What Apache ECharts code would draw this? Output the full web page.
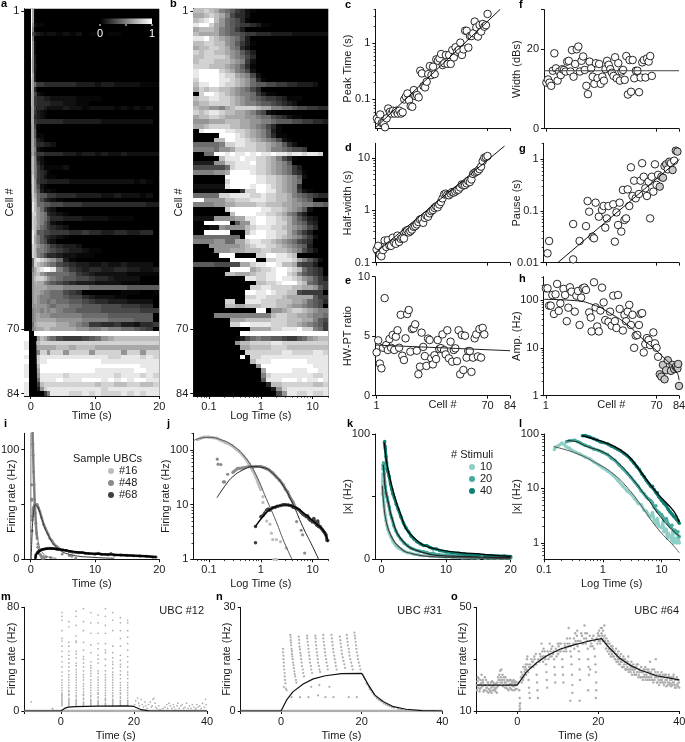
<!DOCTYPE html>
<html><head><meta charset="utf-8">
<script src="https://cdn.jsdelivr.net/npm/echarts@6/dist/echarts.min.js"></script>
<style>html,body{margin:0;padding:0;background:#fff}#c{width:685px;height:742px}</style>
</head><body><div id="c"></div>
<script>
// ---------- heat maps: one string per cell, one hex digit (0-f) per time bin; missing digits = 0
const heatAEdges=[-1,-.25,0,.25,.5,.75,1,1.5,2,2.5,3,4,5,6,7,8,9,10,11,12,13,14,15,16,17,18,19,20];
const heatBEdges=[.05,.063,.079,.1,.126,.158,.2,.251,.316,.398,.501,.631,.794,1,1.26,1.58,2,2.51,3.16,3.98,5.01,6.31,7.94,10,12.6,15.8,20];
const heatA=["00fb1","00fb1","00fb1","00fa2211","00f91","00f7433212212120110110","00f91","00fa2","00fa2","00fa2","00fa31","00ea3","00ea32","00ea3","00eb3","00db31",
"00db865544444433323322221111","00db42","00cb6521","00cb55443322221111","00cb554444332211","00bb6344322232212222121212","00bb54321","00bb44321","00bb5544444433333322222222","00ab621","00ab73","00ab7311","00ab8432","00ab8544332","00ab9521",
"009b86554444332332322322222","00ac9632","00ac97421","00ac985311112","009c985431","009d9854211","009da754433332222222222121","008da8621","008da973121","007dba87755444333322322212","006dca864321","005ecb8877665554444444444333","005ecba8532","004ddba984321","004dcba9864433322221111","004dcca97521","004dcba875432",
"005eca77665554454433443344","005eba9754321","005eba97632","004dcba98754332","004dca998765433211","003dcb98644322111","0018deedcba831","0018ddcba98654332232232222","0029bcdeffe9754344334433223","001abcca9888875432222211111","001acdddca98776654432222","001abcbb9876543332222111","001abbbbbaaa9999888888777777","001abbba9988654000000111001","001abba999887664322211","000abba9989887765443332222","000aabaaa98998877766655544","0009aaa9a9a9887777666666555","0009abbaaa9999988887777777","0009abbbbbbaaaa99998888777","0008bbcccccbba9855445332445","0009abbbccbbbbaa99a9988765",
"f000fffffffffffffffffffffff","f00003acb986555678abccccccc","e0000acdddddddddddddddddddd","e00007bbbbbccbcccbbbbbbbbbb","f000069ddaddadddaddddaddadd","e00006deeeeeeeeeeeeddeeeded","f00005deefffffffffeeeeeeeee","e00003cfffffffffffffffffeee","e00002bffffffffffeeeeeeffee","e00001aeeeeedeeeeeeedeeeded","f000008eeeefeeefffefefeffee","e000005cdddddddddcddccddccd","e000003adeeeeeeeeedeeeeeeee","e000000059eeeddededddededee"];
const heatB=["ccdcb9875421","bbcdcb96442","cdefca87641","effdba876554311","bcccb98753","cbbbb987765544433332222222","eefdcba9863","ccddcca97531","bccddcb9842","dcddccba9753","ccddddca9864","cdddcccba952","dddcccba9741","effffdcb9862","effffeddba962","dffffeedcba841",
"ceeffeddcba8776655443332","bdcddccba9864","0dffedcba9985311","cddeeddcba98765543111","bccddddcba9987765432","cbbaa9bcddddcbb99887665544","dcdeedccbba97621","bccddcbbbbaa988654211","aaabbbcccbbaa9987776655443","bbcddddccbba98641","0effffeeddcba9731","00000fffedcba97411","0000ccffeedcba98621","888889ddeeddccba9742","99998aabddddccb9987665",
"0088ffefeefefeefeedeedeed","00000ceeefeeddcb9641","3333aaddeeefddcba97","6666668deeeeddcba9853","9999aabffffeddcba98541","000000ffffffeeddcba972","000000dfffffeeddcba98","222222effffeffedcba94","1111110005ddffeecba9521","88888ddeeeeddeddccb9876544","ffaaaaccdddeeeddccba987","9999aabbccccddcccbbaa99887","000000dffffffeeddcba972","0000000cffffeeddcb9853","2222aaaabbeeffeedcb97532",
"00fffff07aaeffeeddb98743","00022a9aaacdeeeddcba9864","00fffff000ceffeeddb9753","8888888880ffffeedcba9752","9999aa88bbdeeddcba98654","000aaaaaabcdeeddcba9873","0000aaabbbcccddcccba9642","00000fff0000ddffeedc0000","0000000fffff00ddeeedb9752","777766666bbdeeffeccb6553","0000000ffffbcddeffedc8654","000000ccbbbcddeeffdc97654","0000000000eeddeefeedca9753","000000000000ccddefffdc8755","00000000000ddeeddddccbba75",
"0000000000ffeefeddcc65555","0000000000ddeedddcbbbbb755","000000dd00eeedddcccbba8764","000000ccbbcccdddccbaa9876","000000000000ff0aabcddcba99","000099999999999cddccbba998","0000000bbbcccccdddcccbb976","0000000ddffeeeedddccba9875","00000000000bbbbddeeefdd985",
"000000000ffffffffffffffffff","0000000013689887765578abcc","00000000accddddeeddddddddd","000000000bbccccdddcccccccc","0000000000dddddddeeddddeed","000000000f0ddeeeeeeeeeeeee","00000000000ceeefffffffeeee","000000000000affffffffffeee","0000000000000bfffffeeeffee","00000000000009deeeeeeeedde","00000000000007eeefffefeefe","000000000000004ccddddddccd","0000000000000003adeeeeeeee","00000000000000006aeeddedde"];

// ---------- cell-indexed measurements
const peakTime=[.046,.042,.054,.038,.038,.032,.046,.069,.06,.056,.063,.056,.063,.056,.063,.056,.059,.10,.112,.128,.097,.076,.074,.147,.115,.12,.109,.325,.291,.173,.164,.207,.283,.394,.272,.383,.283,.518,.49,.54,.645,.41,.44,.62,.43,.62,.43,.76,.56,.85,.71,.76,1.03,.62,.78,1.68,1.67,.84,1.35,1.35,1.51,2.44,1.93,1.32,2.12,1.62,2.21,1.98,2.1,3.34];
const halfWidth=[.179,.21,.143,.133,.174,.266,.2,.27,.213,.21,.30,.24,.23,.33,.25,.286,.30,.29,.40,.42,.38,.40,.43,.486,.50,.54,.60,.67,.69,.58,.72,.80,.76,.88,.97,1.02,1.12,1.2,1.15,1.3,1.45,1.7,2.03,2.1,2.0,1.95,2.1,2.25,2.2,2.3,2.45,2.5,2.75,3.15,3.0,3.06,3.3,3.65,3.5,3.92,5.0,5.3,5.5,5.7,6.2,6.9,8.8,10.2,10.5,11];
const hwPtRatio=[3.64,4.65,2.7,2.3,4.03,8.2,4.26,3.84,4.76,4.03,5.1,3.84,4.96,5.5,4.03,6.8,3.36,3.0,4.82,6.86,7.2,3.7,5.6,5.66,6.0,3.78,1.8,2.44,5.3,4.1,3.33,2.5,4.8,4.68,3.14,2.63,3.4,3.08,4.68,3.92,4.0,5.15,3.84,3.47,5.5,3.14,4.54,2.86,3.84,3.98,2.9,5.5,1.8,5.1,2.16,5.04,3.2,3.75,3.75,2.0,3.2,4.82,5.15,3.3,5.6,3.2,5.7,5.15];
const widthDbs=[11.6,12.4,11.6,10.8,14.6,19,15.2,12.1,14.4,13.5,15,14.8,14.4,16.9,17.1,14.4,19.8,13.1,16.3,20,20.7,14.4,17.1,18.2,14.8,10.8,8.7,16.9,15.2,13.1,11.3,16.5,12.7,16.3,11.3,13.1,12.1,15,17.1,16.1,15,14.1,13.3,18,12.7,16.5,12.1,14.4,14.8,12.3,18.3,8.6,17.3,9.3,17.3,12.7,14.6,14.6,9.2,12.9,16.7,17.3,12.9,17.7,16.9,18.3,13.3];
const pausePts=[[2,.0152],[3,.0263],[18,.0116],[18,.056],[22,.0263],[26,.051],[27,.156],[28,.097],[30,.032],[31,.0296],[32,.145],[34,.0776],[36,.105],[37,.125],[38,.0476],[39,.072],[40,.125],[43,.135],[44,.0255],[45,.094],[46,.0536],[47,.145],[48,.04],[49,.255],[50,.067],[51,.072],[52,.262],[53,.125],[54,.70],[55,.195],[56,.386],[57,.176],[59,.213],[60,.386],[61,.84],[62,.46],[63,.275],[64,.195],[65,.37],[66,.072],[67,.46],[68,.237],[69,.80],[70,.32],[71,.50],[72,.296],[73,.46],[74,.44],[75,.74],[76,.80],[77,.64],[78,.90],[79,.84],[80,.62],[81,.94],[82,1.47],[83,1.41]];
const pauseGrayCells=[72,74,76,78,80,82,83];
const ampPts=[[1,175],[2,175],[3,76],[4,76],[5,127],[6,51],[7,131],[8,216],[9,59],[10,85],[12,170],[13,127],[14,36],[15,69],[16,184],[17,149],[19,57],[20,123],[21,154],[22,30],[23,112],[24,175],[25,181],[26,162],[28,55],[29,43],[29.5,22],[31,234],[32,70],[33,28],[34,22],[35,60],[36,181],[37,89],[38,38],[40,35],[41,57],[42,29],[43,123],[44,36],[45,26],[46,127],[47,65],[49,23],[50,49],[51,36],[52,57],[53,79],[54,30],[55,49],[56,10],[57,18],[58,18.6],[59,30],[60,51],[61,53],[62,8],[63,12],[64,16],[65,14.6],[66,11.4],[68,21],[69,12.4],[70,10],[71,6.5],[72,2.8],[73,2.5],[75,2.2],[74,4.4],[77,5.5],[76,3.4],[79,3.3],[80,4.4],[81,3.6],[82,4],[83,3.7],[83.5,4.6],[84,1.6]];
const fitPeak=[[.17,.0316],[77.9,4.04]];
const fitHalf=[[-.25,.15],[80.6,17.1]];
const fitRatio=[[0,4.26],[84,3.78]];
const fitWidth=[[-.5,14.6],[84,14.6]];
const fitPause=[[8.4,.01],[84.3,1.0]];
const fitAmp=[[0,103],[19,97],[32,76],[41,53],[52,30],[62,14.6],[73,7],[83,2.9],[84,2.1]];

// ---------- sample UBCs (time s, rate Hz)
const dots16=[[.06,155],[.07,165],[.08,172],[.1,172],[.12,168],[.14,165],[.17,150],[.2,140],[.24,130],[.28,120],[.33,105],[.38,95],[.45,80],[.52,68],[.6,55],[.7,42],[.8,33],[.9,24],[1,19],[1.1,14],[1.1,11],[1.27,7.4],[1.3,5],[1.5,4.4],[1.6,3],[1.7,2.3],[2,2.3],[2.4,2.1],[3.1,1.6],[1.8,1],[2,1]];
const dots48=[[.145,68],[.15,55],[.17,54],[.19,26],[.2,26],[.23,36],[.29,39],[.36,46],[.45,47],[.5,48],[.6,50],[.7,49],[.8,50],[1,50],[1.1,48],[1.2,47],[1.4,44],[1.7,38],[2,32],[2.3,28],[2.7,23],[3,19],[3.3,17],[3.6,14],[4.2,11],[4.6,9],[4.9,4.9],[6,3.4],[6.4,2.8],[7,1.3]];
const dots68=[[.79,4],[.79,2],[1,6],[1.1,6.3],[1.2,7],[1.3,8],[1.4,8.3],[1.5,8],[1.7,8.8],[1.9,9],[2.1,9.3],[2.4,9.6],[2.7,10],[3,10],[3.4,9.8],[3.8,9.6],[4.2,9],[4.6,8.8],[5,8.5],[5.5,8],[6,7.2],[6.5,6.7],[7,6.4],[7.5,6],[8,6.2],[8.5,5.5],[9,5.2],[10,4.8],[10.5,5.6],[11,4.7],[12,4.2],[12.5,5],[13,4],[14,4],[15,3.6],[16,3.3],[17,3.1],[18,2.8],[19,2.2],[19.5,2.2]];
const curve16=[[.05,148],[.066,163],[.1,170],[.16,157],[.29,120],[.52,70],[.81,35],[1.27,13],[1.98,4.9],[2.8,2.1],[4,1]];
const curve48=[[.143,13.4],[.215,23.6],[.289,32.5],[.45,43],[.7,49.6],[1.09,48],[1.7,37.4],[2.65,22.9],[4.1,10.6],[6.4,4],[10,1.7],[13,1]];
const curve68=[[.79,4],[1.09,6],[1.46,8],[1.98,9.3],[3.1,9.9],[4.8,8.8],[7.4,6.5],[11.6,4.5],[16.7,3.2],[19.5,2.1]];

// ---------- stimulus number (time s, |x| Hz)
const dots10=[[.15,52],[.16,58],[.18,62],[.2,68],[.22,64],[.24,58],[.27,55],[.3,50],[.35,46],[.4,43],[.5,38],[.6,35],[.7,31],[.85,27],[1,24],[1.2,21],[1.5,17.5],[1.8,14],[2.2,11],[2.6,9],[3,8],[3.5,6.5],[4,5.3],[4.5,5],[5,4],[5.5,3.8],[6,3.2],[6.5,3],[7,3.6],[7.5,2.6],[8,2.2],[8.5,2.8],[9,2],[10,1.9],[10.5,2.4],[11,1.6],[12,1.8],[12.5,1.2],[13,1.5],[14,1.3],[15,1.1],[15.5,1.7],[16,1],[17,1.2],[18,1],[19,1.3],[20,1]];
const dots20=[[.24,72],[.27,75],[.3,76],[.33,77],[.38,72],[.42,68],[.5,62],[.6,58],[.7,53],[.85,50],[1,46],[1.2,42],[1.4,36],[1.6,33],[1.9,27],[2.2,23],[2.6,19],[3,16],[3.5,13],[4,11],[4.5,9],[5,8],[5.5,7],[6,6.4],[6.5,6],[7,5.4],[7.5,4.5],[8,4.8],[8.5,3.8],[9,3.6],[10,3.3],[10.5,3],[11,2.6],[12,2.8],[13,2.2],[14,2],[15,2.1],[16,1.7],[17,1.7],[18,1.5],[19,1.6],[20,1.3]];
const dots40=[[.45,93],[.5,94],[.55,90],[.6,88],[.7,82],[.8,77],[.9,72],[1,70],[1.2,66],[1.4,60],[1.6,56],[1.8,52],[2,49],[2.3,44],[2.6,40],[3,34],[3.4,29],[3.8,25],[4.2,22],[4.6,18.5],[5,16.5],[5.5,14],[6,12.5],[6.5,11],[7,11],[7.5,9.5],[8,8.4],[8.5,8.3],[9,7],[10,6],[11,5.3],[12,4.8],[13,4.1],[14,3.7],[15,3.4],[16,3.1],[17,3.1],[18,2.7],[19,2.6],[20,2.3]];
const curve10=[[.144,58.7],[.318,46],[.7,31],[1.53,18.3],[2.97,8.8],[4.4,5],[8.4,1.88],[16.2,.87],[20,.66]];
const curve20=[[.244,75.5],[.318,74],[.54,58.7],[1.03,46],[1.74,31],[2.97,16.6],[5.65,6.7],[11,2.5],[20,1.32]];
const curve40=[[.45,93],[.7,81],[1.18,67.5],[2,51],[2.97,36],[4.4,20.5],[8.4,8.2],[16.2,3.8],[20,2.4]];

// ---------- example cells: [time, rates...] columns and (time, rate) pairs
const mColumns=[[.3,76,73,70,62,56,54,50,46,42,38,34,30,27,24,22,20,18,16,14,13,12,11,10,9,8,7,6,5,4],[2.2,69,65,53,50,46,43,40,37,34,31,28,26,24,22,20,18,16,15,13,12,10,9,8,7,6,5,4],[4.2,77,73,66,58,54,53,46,44,41,37,35,32,30,28,26,24,22,20,18,16,14,12,11,9,8,7,6,5,4],[6.2,79,69,62,53,47,42,40,37,34,31,28,26,24,21,19,17,15,13,12,10,9,7,6,5,4],[8.2,76,68,60,51,45,38,35,33,31,29,27,24,22,20,18,16,14,12,11,9,8,7,6,5,4],[10.2,74,68,60,52,48,43,40,37,31,29,26,24,22,20,18,16,14,13,11,10,8,7,6,5,4],[12.2,79,73,66,60,52,47,45,40,35,31,28,26,24,22,20,18,16,14,12,10,9,8,6,5,4],[14.2,76,70,62,50,45,41,38,36,33,30,28,26,24,22,20,18,16,14,12,11,9,8,7,6,5,4],[16.3,72,68,62,56,50,43,39,36,34,31,28,25,22,20,18,16,14,13,11,10,8,7,6,5,4],[18.3,70,68,62,57,52,47,42,38,34,30,28,25,22,20,18,16,14,12,10,8,7,6,5,4]];
const mOther=[[-8.1,7],[-2.3,2],[-2.2,1],[-1,.5],[20.2,5],[20.5,8],[21,10],[21.3,6],[21.5,4],[22,9],[22.3,5],[22.6,3],[23,7],[23.2,4],[23.6,2],[24,5],[24.5,7],[24.8,3],[25.2,9],[25.5,10],[25.8,6],[26,3],[26.3,2],[26.8,4],[27,1],[28,2],[28.5,3],[29,5],[29.2,2],[29.6,6],[30,4],[30.4,2],[30.8,5],[31,3],[31.4,1],[31.8,4],[32,6],[32.4,2],[32.8,4],[33.2,5],[33.6,2],[34,3],[34.4,6],[34.8,2],[35.2,4],[35.6,2],[36,5],[36.4,3],[36.8,1],[37.2,5],[37.6,3],[38,4],[38.4,2],[38.8,6],[39.2,3],[39.6,9],[39.8,5],[37,2],[25,4],[27.4,1]];
const mCurve=[[-10,0],[0,0],[1,2],[2,3],[4,3.3],[10,3.7],[18,4],[20,3.5],[22,1],[24,.1],[30,0],[40,0]];
const nDots=[[.5,18],[.5,17],[.6,16],[.6,15],[.7,14],[.7,13],[.8,12],[.9,11],[.9,10],[1,9],[1.1,8],[.7,7],[1.2,6.5],[1.4,6],[2.3,22],[2.4,21.3],[2.4,20.5],[2.5,19.8],[2.5,19],[2.6,18],[2.7,17.3],[2.7,16.5],[2.8,15.8],[2.9,15],[3,14],[3.1,13.2],[3.2,12.4],[3.3,11.5],[3.4,10.7],[3.5,10],[3.7,9],[3.8,8.2],[2.6,4],[4.4,21.5],[4.5,20.6],[4.5,19.6],[4.6,18.6],[4.7,17.8],[4.8,16.8],[4.9,16],[5,15],[5.1,14],[5.2,13],[5.4,12],[5.5,11],[5.7,10],[4.7,4],[6.5,21.8],[6.5,21],[6.6,20],[6.7,19],[6.8,18],[6.9,17],[7,16],[7.1,15],[7.2,14],[7.4,13],[7.5,12],[7.7,11],[6.8,4],[7.5,7],[8.5,21.8],[8.6,21],[8.6,20],[8.7,19],[8.8,18],[8.9,17],[9,16],[9.1,15],[9.2,14],[9.4,13],[9.5,12],[9.7,11.3],[9.2,4.5],[9.5,7.5],[10.5,22],[10.5,21],[10.6,20],[10.7,19],[10.8,18],[10.9,17],[11,16],[11.2,15],[11.3,14],[11.5,13],[11.6,12],[11,4],[12,7],[12.5,22],[12.6,21],[12.7,20],[12.8,19],[12.9,18],[13,17],[13.2,16],[13.3,15],[13.5,14],[13.6,13],[13.8,12],[13,4],[14.6,21.5],[14.7,20.5],[14.8,19.5],[14.9,18.5],[15,17.5],[15.1,16.5],[15.3,15.5],[15.5,14.5],[15.7,13.5],[15.9,12.5],[16.3,22],[16.4,21],[16.5,20],[16.6,19],[16.8,18],[16.9,17],[17,16],[17.2,15],[17.4,14],[17.6,13],[17.8,12],[16.8,4],[18.2,22.7],[18.3,21.8],[18.4,21],[18.5,20],[18.6,19],[18.7,18],[18.8,17],[19,16],[19.1,15],[19.3,14],[19.5,13],[19.7,12],[18.8,4],[20.3,10.5],[20.6,9.8],[20.9,9.2],[21.2,8],[21.5,7.6],[21.8,7],[22,6.4],[22.3,6],[22.6,5.4],[23,4.8],[23.4,4.2],[23.8,3.7],[24.2,3.3],[24.6,3],[25,2.7],[25.5,2.2],[26,1.9],[26.5,1.6],[27,1.4],[27.5,1.1],[28,1],[29,.7],[30,.5],[29.5,.3],[31,.3]];
const nCurve=[[-10,0],[0,0],[1.4,3.2],[3,5.6],[5.5,7.8],[8,9.3],[11,10.2],[15,10.8],[20,10.9],[21.7,7.5],[23.3,4.6],[25.4,2.7],[27.9,1.25],[31,.5],[35,.1],[40,0]];
const oDots=[[-10,20],[-9.8,21.5],[-9.6,19],[-9.5,22.5],[-9.2,18.5],[-9,20.5],[-8.8,24],[-8.6,19.5],[-8.4,21],[-8.2,18],[-8,23],[-7.8,20],[-7.6,19],[-7.4,17.5],[-7.2,21],[-7,18.5],[-6.8,20],[-6.6,17.5],[-6.4,19],[-6.2,21.5],[-6,18],[-5.8,20],[-5.6,19],[-5.4,18.5],[-5.2,20.5],[-5,17],[-4.8,19.5],[-4.6,22],[-4.4,24],[-4.2,25.5],[-4,23],[-3.8,21],[-3.6,24],[-3.4,20],[-3.2,22],[-3,19],[-2.8,21],[-2.6,20],[-2.4,18.5],[-2.2,21.5],[-2,20],[-1.8,19],[-1.6,22],[-1.4,20.5],[-1.2,18],[-1,21],[-.8,19.5],[-.6,20.5],[-.4,18.5],[-.2,21],
[.3,21],[.5,18],[.6,15],[.6,12],[.7,11],[.9,23],[1,25],[1.3,24],[1.5,27],[1.8,25],[2,27],[2.2,24],[2.4,30],[2.5,31],[2.6,28],[2.7,25],[2.8,22],[2.9,19],[3,17],[3.1,15],[3.4,27],[3.7,29],[4,27],[4.3,30],[4.6,32],[4.7,28],[4.8,24],[4.9,21],[5,18],[5.1,15],[5.5,29],[5.8,31],[6,36],[6.2,33],[6.4,29],[6.6,31],[6.8,33],[7,31],[7.1,28],[7.2,25],[7.3,22],[7.4,19],[7.8,32],[8,36],[8.2,33],[8.5,31],[8.7,35],[9,33],[9.1,30],[9.2,27],[9.3,24],[9.4,21],[9.8,33],[10,36],[10.2,35],[10.5,33],[10.8,36],[11,34],[11.1,30],[11.2,27],[11.3,24],[11.4,21],[11.8,35],[12,34],[12.4,36],[12.7,42],[13,38],[13.2,35],[13.3,31],[13.4,28],[13.5,24],[13.6,20],[13.6,17],[14,38],[14.3,40],[14.5,36],[14.8,41],[15,37],[15.2,33],[15.3,30],[15.4,26],[15.5,22],[16,39],[16.3,36],[16.6,43],[17,38],[17.2,40],[17.4,34],[17.5,30],[17.6,27],[17.7,24],[18,37],[18.3,36],[18.6,35],[19,34],[19.2,31],[19.3,28],[19.4,25],[19.5,21],[19.5,18],[19.8,36],[20,39],[20.2,41],[20.4,37],[20.6,42],[20.8,40],[21,39],[21.2,41],[21.4,37],[21.6,39],
[21.8,36],[22,38],[22.2,35],[22.4,37],[22.6,34],[22.8,36],[23,33],[23.2,35],[23.4,32],[23.6,34],[23.8,31],[24,33],[24.2,30],[24.4,34],[24.6,31],[24.8,29],[25,33],[25.2,30],[25.4,28],[25.6,32],[25.8,29],[26,27],[26.2,31],[26.4,28],[26.6,30],[26.8,26],[27,29],[27.2,27],[27.4,31],[27.6,26],[27.8,28],[28,25],[28.2,29],[28.4,26],[28.6,28],[28.8,25],[29,27],[29.2,24],[29.4,27],[29.6,25],[29.8,28],[30,24],[30.2,26],[30.4,23],[30.6,27],[30.8,25],[31,22],[31.2,26],[31.4,24],[31.6,27],[31.8,23],[32,25],[32.2,22],[32.4,26],[32.6,23],[32.8,29],[33,25],[33.2,22],[33.4,24],[33.6,21],[33.8,26],[34,23],[34.2,30],[34.4,24],[34.6,21],[34.8,23],[35,20],[35.2,24],[35.4,22],[35.6,25],[35.8,21],[36,23],[36.2,20],[36.4,24],[36.6,22],[36.8,19.5],[37,23],[37.2,21],[37.4,24],[37.6,20],[37.8,22],[38,19.5],[38.2,23],[38.4,21],[38.6,24],[38.8,20],[39,22],[39.2,19],[39.4,23],[39.6,20.5],[39.8,22],[40,19]];
const oDotsMore=[[-9.9,18],[-9.7,23],[-9.4,20],[-9.3,17.5],[-9.1,22],[-8.9,19],[-8.7,21],[-8.5,22],[-8.3,17.5],[-8.1,20],[-7.9,18],[-7.7,22],[-7.5,19],[-7.3,21],[-7.1,17],[-6.9,20],[-6.7,18],[-6.5,21],[-6.3,17],[-6.1,19.5],[-5.9,21],[-5.7,18],[-5.5,20.5],[-5.3,17.5],[-5.1,19],[-4.9,21],[-4.7,23],[-4.5,20],[-4.3,22],[-4.1,21],[-3.9,26],[-3.7,22],[-3.5,19.5],[-3.3,23],[-3.1,21],[-2.9,23],[-2.7,19],[-2.5,22],[-2.3,20],[-2.1,18],[-1.9,22],[-1.7,20.5],[-1.5,18.5],[-1.3,21.5],[-1.1,19.5],[-.9,22],[-.7,18],[-.5,21.5],[-.3,20],[-.1,18.5],
[.6,10.5],[.7,13],[1.1,21],[1.4,22],[1.6,23],[1.9,26],[2.1,28],[2.3,26],[2.9,27],[3.2,28],[3.5,30],[3.9,29],[4.2,31],[4.5,28],[5.2,30],[5.6,32],[5.9,30],[6.3,31],[6.5,34],[6.9,30],[7.5,33],[7.7,30],[8.1,31],[8.4,34],[8.8,32],[9.5,34],[9.7,31],[10.1,32],[10.4,36],[10.7,33],[11.5,33],[11.7,36],[12.1,33],[12.3,38],[12.6,35],[12.9,36],[13.1,33],[13.1,14],[13.9,36],[14.1,34],[14.4,37],[14.7,39],[14.9,35],[15.4,14],[15.6,37],[15.8,40],[16.1,36],[16.5,38],[16.8,40],[16.9,36],[17.3,37],[17.5,18],[17.9,39],[18,26],[18.1,35],[18.5,38],[18.8,39],[19.1,37],[19.4,15],[19.6,38],[19.9,40],[20.1,37],[20.3,39],[20.5,36],[20.7,38],[20.9,42],[21.1,37],[21.3,38],[21.5,43],[21.7,37],
[21.9,34],[22.1,36],[22.3,33],[22.5,36],[22.7,32],[22.9,34],[23.1,31],[23.3,33],[23.5,35],[23.7,31],[23.9,33],[24.1,30],[24.3,32],[24.5,29],[24.7,32],[24.9,30],[25.1,28],[25.3,31],[25.5,29],[25.7,30],[25.9,27],[26.1,30],[26.3,27],[26.5,29],[26.7,26],[26.9,28],[27.1,26],[27.3,29],[27.5,25],[27.7,28],[27.9,26],[28.1,27],[28.3,24],[28.5,27],[28.7,26],[28.9,24],[29.1,26],[29.3,24],[29.5,28],[29.7,25],[29.9,23],[30.1,26],[30.3,25],[30.5,23],[30.7,25],[30.9,23],[31.1,25],[31.3,23],[31.5,26],[31.7,22],[31.9,24],[32.1,26],[32.3,23],[32.5,25],[32.7,22],[32.9,24],[33.1,23],[33.3,26],[33.5,22],[33.7,24],[33.9,22],[34.1,25],[34.3,23],[34.5,21],[34.7,25],[34.9,22],[35.1,24],[35.3,21],[35.5,23],[35.7,22],[35.9,24],[36.1,21],[36.3,23],[36.5,21],[36.7,24],[36.9,22],[37.1,20],[37.3,23],[37.5,21],[37.7,23],[37.9,20.5],[38.1,22],[38.3,20],[38.5,23],[38.7,21],[38.9,19],[39.1,22],[39.3,20],[39.5,22],[39.7,19.5],[39.9,21]];
const oCurve=[[-10,20],[0,20],[2.3,25.1],[4.8,28.6],[7.2,31.2],[10.5,33.8],[13.8,35.4],[18,37.1],[20.8,37.9],[22.9,34.1],[25.3,30.3],[27.8,27.7],[30.3,25.8],[34.4,23.6],[40,22]];
// tick values
const logMinorShort=[.06,.07,.08,.09,.2,.3,.4,.5,.6,.7,.8,.9,2,3,4,5,6,7,8,9,20];
const cellTicks=[1,70,84];

// ---------- builders
const FONT='"Liberation Sans", Arial, sans-serif', INK='#1a1a1a';
const chart=echarts.init(document.getElementById('c'),null,{renderer:'canvas'});
const grid=[],xAxis=[],yAxis=[],series=[];
const fmt=v=>String(+(+v).toFixed(3));
function axis(kind,gi,o){
  const a={gridIndex:gi,type:o.log?'log':'value',min:o.min,max:o.max,inverse:!!o.inverse,
    splitLine:{show:false},minorTick:{show:false},
    axisLine:{show:true,onZero:false,lineStyle:{color:'#111',width:1}},
    axisTick:{show:true,customValues:o.ticks,length:3,lineStyle:{color:'#111',width:1}},
    axisLabel:{show:!!o.labels,customValues:o.labels||[],formatter:fmt,margin:o.margin||5,fontFamily:FONT,fontSize:11,color:INK,hideOverlap:false,showMinLabel:true,showMaxLabel:true},
    name:o.name||'',nameLocation:'middle',nameGap:o.gap||0,nameMoveOverlap:false,nameTextStyle:{fontFamily:FONT,fontSize:11,color:INK}};
  if(o.log)a.logBase=10;
  const arr=kind==='x'?xAxis:yAxis;arr.push(a);const idx=arr.length-1;
  if(o.minor){arr.push({gridIndex:gi,type:o.log?'log':'value',logBase:10,min:o.min,max:o.max,position:kind==='x'?'bottom':'left',
    splitLine:{show:false},axisLine:{show:false,onZero:false},axisLabel:{show:false},
    axisTick:{show:true,customValues:o.minor,length:1.8,lineStyle:{color:'#111',width:.8}}});}
  return idx;
}
function panel(box,xo,yo){
  grid.push({left:box[0],top:box[1],width:box[2]-box[0],height:box[3]-box[1],show:!!box[4],backgroundColor:box[4]||'transparent',borderWidth:0,outerBoundsMode:'none',containLabel:false});
  const gi=grid.length-1;return {x:axis('x',gi,xo),y:axis('y',gi,yo)};
}
function heat(ax,rows,edges){
  const data=[];rows.forEach((s,r)=>{for(let i=0;i<edges.length-1;i++){const c=i<s.length?parseInt(s[i],16):0;if(c>0)data.push([edges[i],edges[i+1],r+1,c/15]);}});
  series.push({type:'custom',xAxisIndex:ax.x,yAxisIndex:ax.y,data,encode:{x:[0,1],y:2},clip:true,silent:true,
    renderItem:(p,api)=>{const a=api.coord([api.value(0),api.value(2)-.5]),b=api.coord([api.value(1),api.value(2)+.5]);const g=Math.round(Math.pow(api.value(3),1.35)*255);
      const x0=Math.round(a[0]),x1=Math.round(b[0]),y0=Math.round(a[1]),y1=Math.round(b[1]);
      return {type:'rect',shape:{x:x0,y:y0,width:Math.max(1,x1-x0),height:y1-y0},style:{fill:`rgb(${g},${g},${g})`}};}});
}
function circles(ax,pts,isGray){series.push({type:'scatter',xAxisIndex:ax.x,yAxisIndex:ax.y,data:pts,symbolSize:7.5,z:3,
  itemStyle:{color:p=>(isGray&&isGray(p.value[0]))?'#c8c8c8':'#fff',borderColor:'#111',borderWidth:.9,opacity:1}});}
function fit(ax,pts,opt){opt=opt||{};series.push({type:'line',name:opt.name,xAxisIndex:ax.x,yAxisIndex:ax.y,data:pts,showSymbol:false,symbol:'none',smooth:!!opt.smooth,z:opt.z||4,lineStyle:{color:opt.color||'#111',width:opt.width||1}});}
function dots(ax,pts,color,size,name,z){series.push({type:'scatter',name,xAxisIndex:ax.x,yAxisIndex:ax.y,data:pts,symbolSize:size,z:z||2,itemStyle:{color,opacity:1}});}
const seq=arr=>arr.map((v,i)=>[i+1,v]);
const band=(ax,pts,color,w)=>fit(ax,pts,{color,width:w,z:2});

// a, b
const pa=panel([24.3,8.7,159.3,396,'#000'],{min:-1,max:20,ticks:[0,10,20],labels:[0,10,20],name:'Time (s)',gap:14.5},{min:.5,max:84.5,inverse:true,ticks:cellTicks,labels:cellTicks,name:'Cell #',gap:9});
heat(pa,heatA,heatAEdges);
const pb=panel([193.3,8.7,328.3,396,'#000'],{log:true,min:.05,max:20,ticks:[.1,1,10],labels:[.1,1,10],minor:logMinorShort,name:'Log Time (s)',gap:14.5},{min:.5,max:84.5,inverse:true,ticks:cellTicks,labels:cellTicks,name:'Cell #',gap:9});
heat(pb,heatB,heatBEdges);
// c f d g e h
const cx=(labels,name,gap)=>({min:0,max:84,ticks:cellTicks,labels,name,gap});
const dec=(a,b)=>{const out=[];for(let e=-3;e<3;e++)for(let k=2;k<10;k++){const v=+(k*Math.pow(10,e)).toFixed(4);if(v>a&&v<b)out.push(v);}return out;};
const pc=panel([375.4,9.3,510,128],cx(null),{log:true,min:.031,max:4.04,ticks:[.1,1],labels:[.1,1],minor:dec(.031,4.04),name:'Peak Time (s)',gap:22});
circles(pc,seq(peakTime));fit(pc,fitPeak);
const pf=panel([544,9.6,679,128.7],{min:-.5,max:84,ticks:cellTicks},{min:0,max:30,ticks:[0,20,30],labels:[0,20],name:'Width (dBs)',gap:21.5});
circles(pf,seq(widthDbs));fit(pf,fitWidth,{color:'#444'});
const pd=panel([375,143.3,510,262.7],cx(null),{log:true,min:.1,max:19.3,ticks:[.1,1,10],labels:[.1,1,10],minor:dec(.1,19.3),name:'Half-width (s)',gap:22});
circles(pd,seq(halfWidth));fit(pd,fitHalf);
const pg=panel([543.5,143.3,679,262.7],{min:-.5,max:84,ticks:cellTicks},{log:true,min:.01,max:2.04,ticks:[.01,.1,1],labels:[.01,.1,1],minor:dec(.01,2.04),name:'Pause (s)',gap:21.5});
circles(pg,pausePts,x=>pauseGrayCells.includes(x));fit(pg,fitPause);
const pe=panel([375,276.7,510,395.7],{min:0,max:84,ticks:cellTicks,labels:cellTicks,name:'Cell #',gap:4},{min:0,max:10,ticks:[0,5,10],labels:[0,5,10],name:'HW-PT ratio',gap:22});
circles(pe,seq(hwPtRatio));fit(pe,fitRatio,{color:'#222'});
const ph=panel([543.5,276.7,679,395.7],{min:-.5,max:84,ticks:cellTicks,labels:cellTicks,name:'Cell #',gap:4},{log:true,min:1,max:306,ticks:[1,10,100],labels:[1,10,100],minor:dec(1,306),name:'Amp. (Hz)',gap:21.5});
circles(ph,ampPts,x=>x>=72);fit(ph,fitAmp,{smooth:true});
// i j
const C16='#bdbdbd',C48='#8a8a8a',C68='#3f3f3f';
const pi=panel([24.3,433.3,159.3,559.3],{min:-1,max:20,ticks:[0,10,20],labels:[0,10,20],name:'Time (s)',gap:19},{min:0,max:115,ticks:[0,50,100],labels:[0,100],name:'Firing rate (Hz)',gap:7});
dots(pi,dots16,C48,3,'#16');dots(pi,dots48,C48,3,'#48');dots(pi,dots68,C68,3,'#68');
band(pi,dots16.slice(0,19),C48,2.5);band(pi,dots48.slice(6,26),C48,2.5);band(pi,dots68.slice(2),C68,2.5);
fit(pi,[[0,0]].concat(curve16),{color:'#777',smooth:true});fit(pi,[[.05,0]].concat(curve48),{color:'#333',smooth:true});fit(pi,[[.7,0]].concat(curve68),{color:'#000',width:2,smooth:true});
const pj=panel([193.3,433.3,328.3,559.3],{log:true,min:.05,max:20,ticks:[.1,1,10],labels:[.1,1,10],minor:logMinorShort,name:'Log Time (s)',gap:19},{log:true,min:1,max:202,ticks:[1,10,100],labels:[1,10,100],minor:dec(1,202),name:'Firing rate (Hz)',gap:22});
dots(pj,dots16,C16,3.2);dots(pj,dots48,C48,3.2);dots(pj,dots68,C68,3.5);
band(pj,dots16.slice(0,19),C16,3);band(pj,dots48.slice(6,26),C48,3);band(pj,dots68.slice(2),C68,3);
fit(pj,curve16,{color:'#555',smooth:true});fit(pj,curve48,{color:'#222',smooth:true});fit(pj,curve68,{color:'#000',width:1.4,smooth:true});
// k l
const T10='#8ed0c6',T20='#46a99c',T40='#0e7f72';
const pk=panel([375,434,510.7,559.3],{min:-1,max:20,ticks:[0,10,20],labels:[0,10,20]},{min:0,max:100,ticks:[0,50,100],labels:[0,100],name:'|x| (Hz)',gap:22});
dots(pk,dots10,T10,3.5,'10');dots(pk,dots20,T20,3.5,'20');dots(pk,dots40,T40,3.5,'40');
band(pk,dots10,T10,3);band(pk,dots20,T20,3);band(pk,dots40,T40,3);
fit(pk,curve10,{color:'#444',smooth:true,width:1.2});fit(pk,curve20,{color:'#222',smooth:true,width:1.2});fit(pk,curve40,{color:'#000',smooth:true,width:1.2});
const pl=panel([544,434,679.3,559.3],{log:true,min:.1,max:20,ticks:[.1,1,10],labels:[.1,1,10],minor:logMinorShort.filter(v=>v>.1),name:'Log Time (s)',gap:19},{log:true,min:.5,max:100,ticks:[1,10,100],labels:[1,10,100],minor:dec(.5,100),name:'|x| (Hz)',gap:22});
dots(pl,dots10,T10,3.5);dots(pl,dots20,T20,3.5);dots(pl,dots40,T40,3.5);
band(pl,dots10,T10,3);band(pl,dots20,T20,3);band(pl,dots40,T40,3);
fit(pl,curve10,{color:'#555',smooth:true});fit(pl,curve20,{color:'#222',smooth:true});fit(pl,curve40,{color:'#000',smooth:true,width:1.4});
// m n o
const GR='#adadad',TS=[-10,0,20,40],TL=[0,20,40];
const mDots=mOther.slice();mColumns.forEach(c=>c.slice(1).forEach(v=>mDots.push([c[0],v])));
const pm=panel([24.3,607.3,207,711],{min:-10,max:40,ticks:TS,labels:TL,name:'Time (s)',gap:19},{min:0,max:80,ticks:[0,40,80],labels:[0,80],name:'Firing rate (Hz)',gap:7});
fit(pm,[[-10,0],[40,0]],{color:GR,width:2.5,z:1});dots(pm,mDots,GR,1.7);fit(pm,mCurve,{width:1.2});
const pn=panel([240.7,607.3,442.3,711],{min:-10,max:40,ticks:TS,labels:TL,name:'Time (s)',gap:19},{min:0,max:30,ticks:[0,15,30],labels:[0,30],name:'Firing rate (Hz)',gap:8.5});
fit(pn,[[-10,0],[40,0]],{color:GR,width:2.5,z:1});dots(pn,nDots,GR,2.2);fit(pn,nCurve,{width:1.2});
const po=panel([476.7,607.3,679.3,711],{min:-10,max:40,ticks:TS,labels:TL,name:'Time (s)',gap:19},{min:10,max:50,ticks:[10,30,50],labels:[10,50],name:'Firing rate (Hz)',gap:8});
dots(po,oDots.concat(oDotsMore),GR,2.4);fit(po,oCurve,{width:1.2});

// text overlays
const txt=(x,y,text,o)=>Object.assign({type:'text',x,y,silent:true,z:50,style:Object.assign({text,fontFamily:FONT,fontSize:11,fill:INK,verticalAlign:'middle'},o||{})});
const letters=[['a',1,4],['b',170,4],['c',345,5],['f',519,5],['d',345,148],['g',519,149],['e',345,281],['h',519,279],['i',4,424],['j',167,424],['k',347,424],['l',519,424],['m',1,597],['n',216,597],['o',451,597]];
const graphic=letters.map(l=>txt(l[1],l[2],l[0],{fontWeight:'bold',fontSize:11,fill:'#000'}));
graphic.push(txt(73,459,'Sample UBCs'),txt(451,455,'# Stimuli'),
  txt(204,611,'UBC #12',{textAlign:'right'}),txt(442,611,'UBC #31',{textAlign:'right'}),txt(679,611,'UBC #64',{textAlign:'right'}),
  {type:'rect',silent:true,z:50,shape:{x:100,y:18.5,width:52,height:5.5},style:{fill:new echarts.graphic.LinearGradient(0,0,1,0,[{offset:0,color:'#000'},{offset:1,color:'#fff'}])}},
  {type:'line',silent:true,z:50,shape:{x1:100,y1:24,x2:100,y2:26},style:{stroke:'#fff',lineWidth:1}},
  {type:'line',silent:true,z:50,shape:{x1:126,y1:24,x2:126,y2:26},style:{stroke:'#fff',lineWidth:1}},
  {type:'line',silent:true,z:50,shape:{x1:152,y1:24,x2:152,y2:26},style:{stroke:'#fff',lineWidth:1}},
  txt(100,34,'0',{textAlign:'center',fill:'#fff'}),txt(152,34,'1',{textAlign:'center',fill:'#fff'}));

chart.setOption({animation:false,backgroundColor:'#fff',textStyle:{fontFamily:FONT},grid,xAxis,yAxis,series,graphic,
  legend:[
   {data:[{name:'#16',itemStyle:{color:C16}},'#48','#68'],orient:'vertical',left:108,top:465,itemWidth:6,itemHeight:6,itemGap:0,icon:'circle',padding:0,selectedMode:false,textStyle:{fontFamily:FONT,fontSize:11,color:INK,lineHeight:12}},
   {data:['10','20','40'],orient:'vertical',left:469,top:461,itemWidth:6,itemHeight:6,itemGap:0,icon:'circle',padding:0,selectedMode:false,textStyle:{fontFamily:FONT,fontSize:11,color:INK,lineHeight:12}}
  ]});
</script></body></html>
